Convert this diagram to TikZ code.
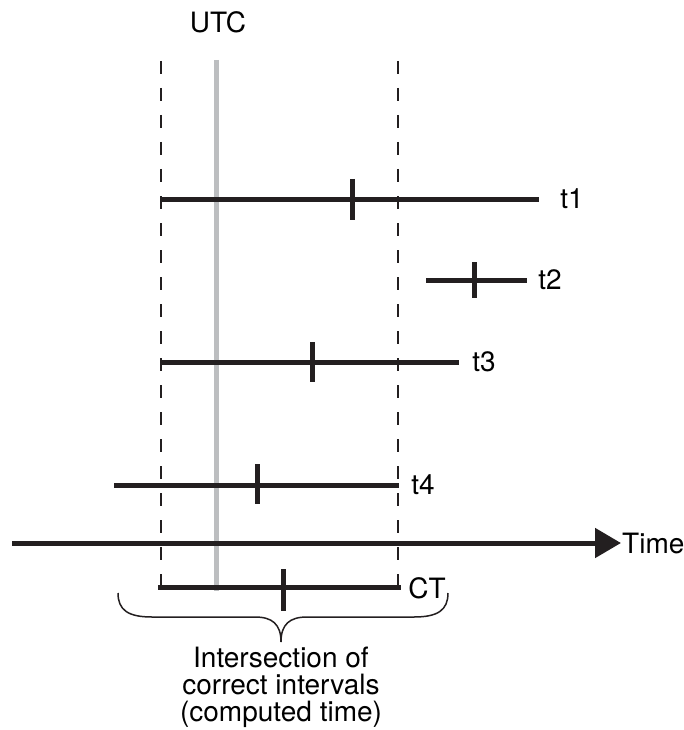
\documentclass[tikz,border=0pt]{standalone}
\usepackage{fontspec}
\setmainfont{TeX Gyre Heros}
\usetikzlibrary{arrows.meta,positioning}
\definecolor{ink}{RGB}{35,31,32}
\definecolor{utcgray}{RGB}{188,190,192}
\tikzset{
  interval/.style={ink, line width=5pt},
  bound/.style={ink, line width=2.4pt, dash pattern=on 13pt off 14pt},
  lbl/.style={inner sep=0pt, font=\fontsize{28}{27}\selectfont},
}
\begin{document}
\begin{tikzpicture}[x=1pt,y=-1pt]
\useasboundingbox (0,0) rectangle (684,730);

% UTC reference line
\node[lbl] (utc) at (218,22) {UTC};
\coordinate (utcTop) at (216,60);
\coordinate (utcBot) at (216,591);
\draw[utcgray, line width=5pt] (utcTop) -- (utcBot);

% bounds of the intersection
\coordinate (lowTop) at (161,61);
\coordinate (lowBot) at (161,587);
\coordinate (upTop) at (398,61);
\coordinate (upBot) at (398,587);
\draw[bound] (lowTop) -- (lowBot);
\draw[bound] (upTop) -- (upBot);

% t1
\coordinate (startT1) at (161,199);
\coordinate (endT1) at (539,199);
\node[lbl] (t1) at (572,199) {t1};
\draw[interval] (startT1) -- (endT1);
\draw[interval] (352,179) -- (352,220);

% t2
\coordinate (startT2) at (426,280);
\coordinate (endT2) at (527,280);
\node[lbl] (t2) at (550,280) {t2};
\draw[interval] (startT2) -- (endT2);
\draw[interval] (474,262) -- (474,298);

% t3
\coordinate (startT3) at (161,362);
\coordinate (endT3) at (459,362);
\node[lbl] (t3) at (484,362) {t3};
\draw[interval] (startT3) -- (endT3);
\draw[interval] (312,342) -- (312,382);

% t4
\coordinate (startT4) at (114,485);
\coordinate (endT4) at (399,485);
\node[lbl] (t4) at (423,485) {t4};
\draw[interval] (startT4) -- (endT4);
\draw[interval] (257,464) -- (257,504);

% time axis
\coordinate (startX) at (12,543);
\coordinate (endX) at (621,543);
\node[lbl, anchor=west] (time) at (622,543) {Time};
\draw[ink, line width=5pt, -{Triangle[length=26pt,width=29pt]}] (startX) -- (endX);

% computed time
\coordinate (startCT) at (158,587);
\coordinate (endCT) at (401,587);
\node[lbl] (ct) at (427,588) {CT};
\draw[interval] (startCT) -- (endCT);
\draw[interval] (283,569) -- (283,611);

% brace and caption
\coordinate (braceL) at (118,593);
\coordinate (braceR) at (448,593);
\coordinate (braceTip) at (281,642);
\draw[ink, line width=1.5pt] (braceL) .. controls (118,610) and (128,617) .. (152,617)
  -- (255,617) .. controls (272,617) and (281,624) .. (braceTip)
  .. controls (281,624) and (290,617) .. (307,617)
  -- (414,617) .. controls (438,617) and (448,610) .. (braceR);
\node[lbl, align=center, below=5pt of braceTip] (caption)
  {Intersection of\\correct intervals\\(computed time)};
\end{tikzpicture}
\end{document}
